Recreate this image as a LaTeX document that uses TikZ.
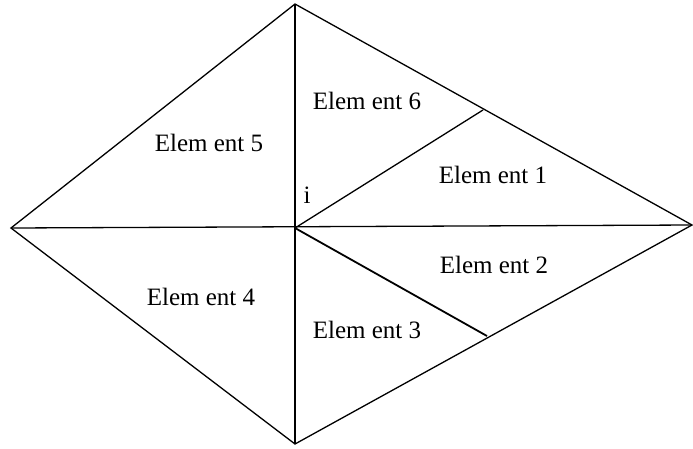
\documentclass[tikz,border=0pt]{standalone}
\usepackage{fontspec}
\setmainfont{Liberation Serif}
\begin{document}
\begin{tikzpicture}[x=1pt,y=-1pt,
  edge/.style={line width=1.3pt,black},
  thick edge/.style={line width=1.8pt,black},
  lbl/.style={inner sep=0pt,font=\fontsize{25}{27}\selectfont}]
\useasboundingbox (0,0) rectangle (693,448);
\coordinate (L) at (11,228);
\coordinate (T) at (295,4);
\coordinate (R) at (692,225);
\coordinate (B) at (295,444);
\coordinate (C) at (295,228);
\coordinate (U) at (483,110);
\coordinate (D) at (487,336);
\draw[edge,line join=miter] (L) -- (T) -- (R) -- (B) -- cycle;
\draw[edge] (L) -- (R);
\draw[edge] (T) -- (C);
\draw[thick edge] (C) -- (B);
\draw[edge] (C) -- (U);
\draw[thick edge] (C) -- (D);
\node[lbl] (e6) at (367,101) {Elem ent 6};
\node[lbl] (e5) at (209,143) {Elem ent 5};
\node[lbl] (e1) at (493,175) {Elem ent 1};
\node[lbl] (e2) at (494,265) {Elem ent 2};
\node[lbl] (e3) at (367,330) {Elem ent 3};
\node[lbl] (e4) at (201,297) {Elem ent 4};
\node[lbl] (i) at (307,195) {i};
\end{tikzpicture}
\end{document}
